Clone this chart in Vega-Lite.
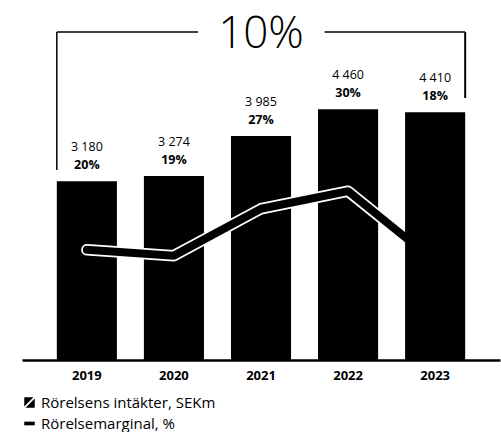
{
  "$schema": "https://vega.github.io/schema/vega-lite/v6.json",
  "autosize": "none",
  "width": 478,
  "height": 350,
  "padding": {"left": 22, "top": 10, "right": 1, "bottom": 72},
  "background": "white",
  "config": {"view": {"stroke": null}, "font": "Open Sans"},
  "data": {"values": [
    {"year": "2019", "rev": 3180, "revLabel": "3 180", "margin": 20, "marginLabel": "20%"},
    {"year": "2020", "rev": 3274, "revLabel": "3 274", "margin": 19, "marginLabel": "19%"},
    {"year": "2021", "rev": 3985, "revLabel": "3 985", "margin": 27, "marginLabel": "27%"},
    {"year": "2022", "rev": 4460, "revLabel": "4 460", "margin": 30, "marginLabel": "30%"},
    {"year": "2023", "rev": 4410, "revLabel": "4 410", "margin": 18, "marginLabel": "18%"}
  ]},
  "encoding": {
    "x": {"field": "year", "type": "ordinal",
      "scale": {"paddingInner": 0.31, "paddingOuter": 0.4},
      "axis": {"title": null, "labelAngle": 0, "ticks": false, "domainColor": "black", "domainWidth": 2.5,
        "labelFontWeight": "bold", "labelFontSize": 13, "labelColor": "black", "labelPadding": 9, "labelFont": "Open Sans"}}
  },
  "layer": [
    {
      "transform": [{"filter": "datum.year != '2023'"}],
      "mark": {"type": "bar"},
      "encoding": {
        "y": {"field": "rev", "type": "quantitative", "scale": {"domain": [0, 6228], "nice": false}, "axis": null},
        "color": {"datum": "Rörelsens intäkter, SEKm",
          "scale": {"domain": ["Rörelsens intäkter, SEKm", "Rörelsemarginal, %"], "range": ["#000000", "#000000"]},
          "legend": {"title": null, "orient": "none", "legendX": 0, "legendY": 385, "direction": "vertical",
            "symbolSize": 110, "labelFontSize": 15, "labelFont": "Open Sans", "labelColor": "black", "labelLimit": 400,
            "labelOffset": 4, "rowPadding": 5, "padding": 0,
            "symbolStrokeWidth": 0,
            "encode": {"symbols": {"update": {"shape": {"signal": "datum.value === 'Rörelsemarginal, %' ? 'M-1,-0.35H1V0.35H-1Z' : 'M-1,-1H0.75L-1,0.75Z M1,-0.75V1H-0.75Z'"}, "fill": {"value": "black"}}}}}}
      }
    },
    {
      "layer": [
        {
          "mark": {"type": "line", "stroke": "white", "strokeWidth": 11.5, "strokeCap": "round", "strokeJoin": "round"},
          "encoding": {
            "y": {"field": "margin", "type": "quantitative", "scale": {"domain": [1.2, 60.9], "nice": false, "zero": false}, "axis": null}
          }
        },
        {
          "mark": {"type": "line", "stroke": "black", "strokeWidth": 8, "strokeCap": "round", "strokeJoin": "round"},
          "encoding": {
            "y": {"field": "margin", "type": "quantitative"}
          }
        }
      ]
    },
    {
      "layer": [
        {
          "transform": [{"filter": "datum.year == '2023'"}],
          "mark": {"type": "bar"},
          "encoding": {
            "y": {"field": "rev", "type": "quantitative", "scale": {"domain": [0, 6228], "nice": false}, "axis": null},
            "color": {"datum": "Rörelsens intäkter, SEKm"}
          }
        },
        {
          "mark": {"type": "text", "baseline": "alphabetic", "dy": -30, "fontSize": 12.5, "font": "Open Sans", "color": "black"},
          "encoding": {
            "y": {"field": "rev", "type": "quantitative"},
            "text": {"field": "revLabel"}
          }
        },
        {
          "mark": {"type": "text", "baseline": "alphabetic", "dy": -12, "fontSize": 12.5, "fontWeight": "bold", "font": "Open Sans", "color": "black"},
          "encoding": {
            "y": {"field": "rev", "type": "quantitative"},
            "text": {"field": "marginLabel"}
          }
        },
        {
          "transform": [{"filter": "datum.year == '2019'"}],
          "mark": {"type": "rule", "color": "black", "strokeWidth": 1.5},
          "encoding": {
            "x": {"field": "year", "type": "ordinal", "bandPosition": 0},
            "y": {"datum": 3381, "type": "quantitative"},
            "y2": {"datum": 5836}
          }
        },
        {
          "transform": [{"filter": "datum.year == '2023'"}],
          "mark": {"type": "rule", "color": "black", "strokeWidth": 2},
          "encoding": {
            "x": {"field": "year", "type": "ordinal", "bandPosition": 1},
            "y": {"datum": 4662, "type": "quantitative"},
            "y2": {"datum": 5836}
          }
        },
        {
          "transform": [{"filter": "datum.year == '2019'"}],
          "mark": {"type": "rule", "color": "black", "strokeWidth": 1.5},
          "encoding": {
            "x": {"field": "year", "type": "ordinal", "bandPosition": 0},
            "x2": {"datum": "2020", "bandPosition": 0.9},
            "y": {"datum": 5836, "type": "quantitative"}
          }
        },
        {
          "transform": [{"filter": "datum.year == '2022'"}],
          "mark": {"type": "rule", "color": "black", "strokeWidth": 1.5},
          "encoding": {
            "x": {"field": "year", "type": "ordinal", "bandPosition": 0.11},
            "x2": {"datum": "2023", "bandPosition": 1},
            "y": {"datum": 5836, "type": "quantitative"}
          }
        },
        {
          "transform": [{"filter": "datum.year == '2021'"}],
          "mark": {"type": "text", "baseline": "alphabetic", "fontSize": 44, "font": "Open Sans", "fontWeight": 300, "color": "black", "dy": 1},
          "encoding": {
            "y": {"datum": 5569, "type": "quantitative"},
            "text": {"value": "10%"}
          }
        }
      ]
    }
  ],
  "resolve": {"scale": {"y": "independent"}}
}
